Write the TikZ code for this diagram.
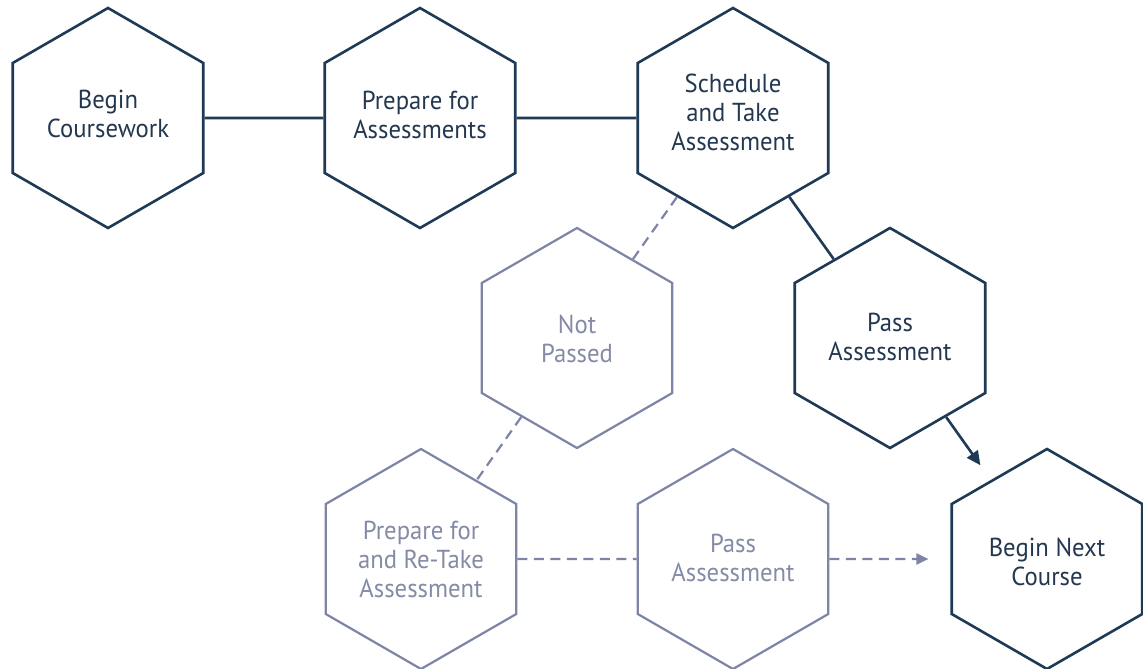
\documentclass[tikz,border=0pt]{standalone}
\usepackage{fontspec}
\setmainfont{PT Sans}[FakeStretch=0.95]
\usetikzlibrary{shapes.geometric,arrows.meta}
\definecolor{navy}{HTML}{1E3A56}
\definecolor{navytext}{HTML}{233850}
\definecolor{lav}{HTML}{7D84A6}
\definecolor{lavtext}{HTML}{858BA5}
\newcommand\hextext[2]{\raisebox{#1}[\height][\depth]{\makebox[0pt]{\begin{tabular}{@{}c@{}}#2\end{tabular}}}}
\begin{document}
\begin{tikzpicture}[x=1pt,y=-1pt,
  hexbase/.style={regular polygon, regular polygon sides=6, shape border rotate=30,
    minimum size=220pt, inner sep=0pt,
    font=\fontsize{26}{29}\selectfont},
  hexdark/.style={hexbase, draw=navy, line width=2.6pt, text=navytext},
  hexlight/.style={hexbase, draw=lav, line width=2.2pt, text=lavtext},
  linkdark/.style={draw=navy, line width=2.6pt},
  linklight/.style={draw=lav, line width=2.2pt, dash pattern=on 10pt off 6.5pt},
  tipdark/.style={-{Triangle[length=14pt,width=13pt]}},
  tiplight/.style={-{Triangle[length=12pt,width=11pt]}}]
\fill[white] (0,0) rectangle (1143,669);
\useasboundingbox (0,0) rectangle (1143,669);

\node[hexdark]  (A) at (108,118) {\hextext{1.2pt}{Begin\\Coursework}};
\node[hexdark]  (B) at (420,118) {\hextext{-0.3pt}{Prepare for\\Assessments}};
\node[hexdark]  (C) at (733,118) {\hextext{2.2pt}{Schedule\\and Take\\Assessment}};
\node[hexlight] (D) at (577,338) {\hextext{-4pt}{Not\\Passed}};
\node[hexdark]  (E) at (890,338) {\hextext{-2.3pt}{Pass\\Assessment}};
\node[hexlight] (F) at (421,559) {\hextext{-3.3pt}{Prepare for\\and Re-Take\\Assessment}};
\node[hexlight] (G) at (733,559) {\hextext{-1.8pt}{Pass\\Assessment}};
\node[hexdark]  (H) at (1047,559) {\hextext{-6pt}{Begin Next\\Course}};

\draw[linkdark] (A) -- (B);
\draw[linkdark] (B) -- (C);
\draw[linkdark] (C) -- (E);
\draw[linkdark, tipdark, shorten >=18pt] (E) -- (H);
\draw[linklight] (C) -- (D);
\draw[linklight] (D) -- (F);
\draw[linklight] (F) -- (G);
\draw[linklight, tiplight, shorten >=22pt] (G) -- (H);
\end{tikzpicture}
\end{document}
